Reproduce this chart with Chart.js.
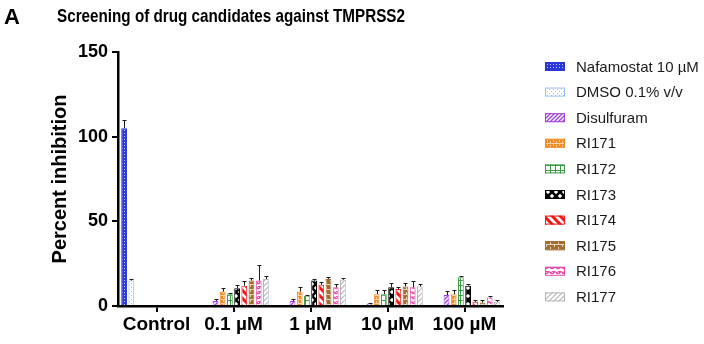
<!DOCTYPE html>
<html>
<head>
<meta charset="utf-8">
<script src="https://cdn.jsdelivr.net/npm/chart.js@4.4.1/dist/chart.umd.min.js"></script>
<style>
  html, body { margin: 0; padding: 0; background: #fff; }
  canvas { display: block; }
</style>
</head>
<body>
<canvas id="screenChart" width="704" height="344"></canvas>
<script>
// Doses on the x axis and y ticks
const categories = ['Control', '0.1 µM', '1 µM', '10 µM', '100 µM'];
const yTicks = [0, 50, 100, 150];

// Mean percent inhibition per compound (null = not tested at that dose)
const nafamostat = [105, null, null, null, null];
const dmso       = [15, null, null, null, null];
const disulfuram = [null, 3, 3, 1.5, 6.5];
const ri171      = [null, 8.5, 8.5, 7, 7];
const ri172      = [null, 7, 6, 7, 17];
const ri173      = [null, 10.5, 15, 11, 12];
const ri174      = [null, 12, 12.5, 10, 2.5];
const ri175      = [null, 15, 16, 11.5, 2];
const ri176      = [null, 15, 11, 11, 5];
const ri177      = [null, 16, 15.5, 11.5, 2.5];

// SD (upper error bar only)
const nafamostatErr = [5, null, null, null, null];
const dmsoErr       = [1, null, null, null, null];
const disulfuramErr = [null, 1, 1, 0.5, 2.5];
const ri171Err      = [null, 2, 3, 2.5, 2.5];
const ri172Err      = [null, 0.5, 0.5, 2.5, 0.5];
const ri173Err      = [null, 2, 1, 2.5, 1];
const ri174Err      = [null, 2.5, 1.5, 1.5, 1];
const ri175Err      = [null, 1.5, 1, 2, 1.5];
const ri176Err      = [null, 9, 2, 3.5, 1];
const ri177Err      = [null, 2, 1, 1.5, 1];

const seriesNames = ['Nafamostat 10 µM', 'DMSO 0.1% v/v', 'Disulfuram', 'RI171', 'RI172',
                     'RI173', 'RI174', 'RI175', 'RI176', 'RI177'];

// small repeating tiles used as bar fills
function makePattern(w, h, paint) {
    const c = document.createElement('canvas');
    c.width = w;
    c.height = h;
    const g = c.getContext('2d');
    paint(g, w, h);
    return g.createPattern(c, 'repeat');
}

function diagonal(color, size, width, back) {
    return makePattern(size, size, (g, w, h) => {
        g.fillStyle = '#fff';
        g.fillRect(0, 0, w, h);
        g.strokeStyle = color;
        g.lineWidth = width;
        g.beginPath();
        for (const off of [-w, 0, w]) {
            if (back) {
                g.moveTo(off - 1, -1); g.lineTo(off + w + 1, h + 1);
            } else {
                g.moveTo(off - 1, h + 1); g.lineTo(off + w + 1, -1);
            }
        }
        g.stroke();
    });
}

const fills = [
    makePattern(3, 3, (g) => {
        g.fillStyle = '#2a36dc'; g.fillRect(0, 0, 3, 3);
        g.fillStyle = '#c8ccff'; g.fillRect(1, 1, 1, 1);
    }),
    makePattern(4, 4, (g) => {
        g.fillStyle = '#fff'; g.fillRect(0, 0, 4, 4);
        g.fillStyle = '#9cc2f2'; g.fillRect(1, 1, 1, 1); g.fillRect(3, 3, 1, 1);
    }),
    diagonal('#a33ee0', 4, 1.3, false),
    makePattern(6, 4, (g) => {
        g.fillStyle = '#f28a24'; g.fillRect(0, 0, 6, 4);
        g.fillStyle = '#fbd3a6'; g.fillRect(0, 3, 6, 1); g.fillRect(1, 0, 1, 2); g.fillRect(4, 1, 1, 2);
    }),
    makePattern(5, 5, (g) => {
        g.fillStyle = '#fff'; g.fillRect(0, 0, 5, 5);
        g.fillStyle = '#3a9a44'; g.fillRect(0, 0, 5, 1); g.fillRect(0, 0, 1, 5);
    }),
    makePattern(8, 8, (g) => {
        g.fillStyle = '#fff'; g.fillRect(0, 0, 8, 8);
        g.strokeStyle = '#000'; g.lineWidth = 2.6;
        g.beginPath();
        g.moveTo(-1, -1); g.lineTo(9, 9);
        g.moveTo(9, -1); g.lineTo(-1, 9);
        g.stroke();
    }),
    diagonal('#f01818', 8, 3, true),
    makePattern(8, 5, (g) => {
        g.fillStyle = '#a06c30'; g.fillRect(0, 0, 8, 5);
        g.fillStyle = '#ead8be'; g.fillRect(0, 4, 8, 1); g.fillRect(2, 0, 1, 2); g.fillRect(6, 2, 1, 2);
    }),
    makePattern(6, 5, (g) => {
        g.fillStyle = '#fff'; g.fillRect(0, 0, 6, 5);
        g.strokeStyle = '#ec48a8'; g.lineWidth = 1.2;
        g.beginPath();
        g.arc(3, 4, 2.2, Math.PI, 0);
        g.moveTo(0, 1.5); g.arc(0, 1.5, 2.2, 0, Math.PI * 0.5);
        g.moveTo(6, 1.5); g.arc(6, 1.5, 2.2, Math.PI * 0.5, Math.PI);
        g.stroke();
    }),
    diagonal('#b6b6b6', 5, 1.1, false)
];

const edgeColors = ['#2a36dc', '#9cc2f2', '#a33ee0', '#f28a24', '#3a9a44',
                    '#000000', '#f01818', '#a06c30', '#ec48a8', '#b6b6b6'];

const values = [nafamostat, dmso, disulfuram, ri171, ri172, ri173, ri174, ri175, ri176, ri177];
const errors = [nafamostatErr, dmsoErr, disulfuramErr, ri171Err, ri172Err,
                ri173Err, ri174Err, ri175Err, ri176Err, ri177Err];

const datasets = seriesNames.map((name, i) => ({
    label: name,
    data: values[i],
    errors: errors[i],
    backgroundColor: fills[i],
    borderColor: edgeColors[i],
    borderWidth: 1,
    barPercentage: 0.8,
    categoryPercentage: 0.935
}));

// SD whiskers on top of each bar
const errorBars = {
    id: 'errorBars',
    afterDatasetsDraw(chart) {
        const { ctx } = chart;
        const y = chart.scales.y;
        ctx.save();
        ctx.strokeStyle = '#1a1a1a';
        ctx.lineWidth = 1;
        chart.data.datasets.forEach((ds, i) => {
            chart.getDatasetMeta(i).data.forEach((bar, j) => {
                const v = ds.data[j];
                const e = ds.errors[j];
                if (v == null || !e) return;
                const x = Math.round(bar.x) + 0.5;
                const top = Math.round(y.getPixelForValue(v + e)) + 0.5;
                ctx.beginPath();
                ctx.moveTo(x, bar.y);
                ctx.lineTo(x, top);
                ctx.moveTo(x - 2, top);
                ctx.lineTo(x + 2, top);
                ctx.stroke();
            });
        });
        ctx.restore();
    }
};

// panel letter, heading and the legend column
const decorations = {
    id: 'decorations',
    afterDraw(chart) {
        const { ctx } = chart;
        ctx.save();
        ctx.fillStyle = '#000';
        ctx.textBaseline = 'alphabetic';
        ctx.font = 'bold 22px "Liberation Sans", Arial, sans-serif';
        ctx.fillText('A', 4, 24);

        const heading = 'Screening of drug candidates against TMPRSS2';
        ctx.font = 'bold 19px "Liberation Sans", Arial, sans-serif';
        const sx = 348 / ctx.measureText(heading).width;
        ctx.translate(57, 22);
        ctx.scale(sx, 1);
        ctx.fillText(heading, 0, 0);
        ctx.restore();

        ctx.save();
        ctx.font = '15px "Liberation Sans", Arial, sans-serif';
        ctx.textBaseline = 'middle';
        chart.data.datasets.forEach((ds, i) => {
            const cy = 66.5 + i * 25.6;
            ctx.fillStyle = ds.backgroundColor;
            ctx.fillRect(545, cy - 4.5, 20, 9);
            ctx.strokeStyle = ds.borderColor;
            ctx.lineWidth = 1;
            ctx.strokeRect(545.5, cy - 4, 19, 8);
            ctx.fillStyle = '#1a1a1a';
            ctx.fillText(ds.label, 576, cy + 1);
        });
        ctx.restore();
    }
};

new Chart(document.getElementById('screenChart').getContext('2d'), {
    type: 'bar',
    data: { labels: categories, datasets: datasets },
    options: {
        responsive: false,
        animation: false,
        layout: { padding: { top: 52, right: 201, bottom: 0, left: 0 } },
        plugins: {
            legend: { display: false },
            tooltip: { enabled: false }
        },
        scales: {
            x: {
                afterFit: (s) => { s.height = 38; },
                grid: {
                    offset: false,
                    drawOnChartArea: false,
                    color: '#000',
                    lineWidth: 2,
                    tickLength: 6
                },
                border: { color: '#000', width: 2.5 },
                ticks: {
                    color: '#000',
                    padding: 1,
                    font: { size: 19, weight: 'bold', family: '"Liberation Sans", Arial, sans-serif' }
                }
            },
            y: {
                min: 0,
                max: 150,
                afterFit: (s) => { s.width = 118; },
                afterBuildTicks: (s) => { s.ticks = yTicks.map(v => ({ value: v })); },
                grid: {
                    drawOnChartArea: false,
                    color: '#000',
                    lineWidth: 2,
                    tickLength: 6
                },
                border: { color: '#000', width: 2.5 },
                ticks: {
                    color: '#000',
                    padding: 4,
                    font: { size: 18, weight: 'bold', family: '"Liberation Sans", Arial, sans-serif' }
                },
                title: {
                    display: true,
                    text: 'Percent inhibition',
                    color: '#000',
                    padding: { top: 48 },
                    font: { size: 20, weight: 'bold', family: '"Liberation Sans", Arial, sans-serif' }
                }
            }
        }
    },
    plugins: [errorBars, decorations]
});
</script>
</body>
</html>
